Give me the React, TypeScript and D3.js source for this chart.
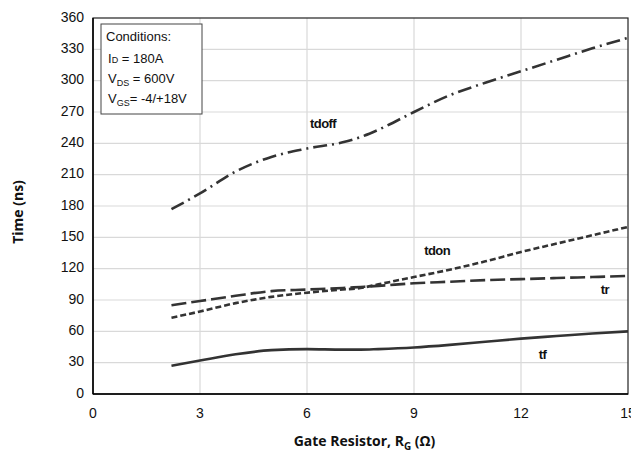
import React, { useRef, useEffect } from 'react';
import * as d3 from 'd3';

// gate resistor values (ohm) at which the curves were read
const rg = [2.2, 3, 4, 5, 6, 7, 7.5, 8, 9, 10, 11, 12, 13, 14, 15];
const tdoff = [177, 192, 213, 227, 235, 241, 246, 253, 270, 286, 298, 309, 320, 331, 341];
const tdon = [73, 79, 87, 93, 97, 100, 101.5, 105, 112, 119, 127, 136, 144, 152, 160];
const tr = [85, 89, 94, 98.5, 100, 101.5, 102.5, 103.5, 106, 107.5, 109, 110, 111, 112, 113];
const tf = [27, 32, 38, 42, 43, 42.5, 42.5, 43, 44.5, 47, 50, 53, 55.5, 58, 60];

const xTicks = [0, 3, 6, 9, 12, 15];
const yTicks = [0, 30, 60, 90, 120, 150, 180, 210, 240, 270, 300, 330, 360];

const seriesNames = ['tdoff', 'tdon', 'tr', 'tf'];
const seriesValues = [tdoff, tdon, tr, tf];
const seriesDash = ['14,5,2,5', '6,3', '15,5', 'none'];
// label anchor positions in data units [rg, ns]
const labelX = [6.45, 9.65, 14.35, 12.6];
const labelY = [258, 136, 99, 37];

const W = 631;
const H = 461;

const App: React.FC = () => {
  const svgRef = useRef<SVGSVGElement>(null);

  useEffect(() => {
    document.body.style.margin = '0';
    if (!svgRef.current) return;
    const svg = d3.select(svgRef.current);
    svg.selectAll('*').remove();

    const left = 93, right = 628, top = 18, bottom = 394;
    const x = d3.scaleLinear().domain([0, 15]).range([left, right]);
    const y = d3.scaleLinear().domain([0, 360]).range([bottom, top]);

    // grid
    svg.append('g').selectAll('line.gx').data(xTicks.slice(1, -1)).join('line')
      .attr('x1', d => x(d)).attr('x2', d => x(d))
      .attr('y1', top).attr('y2', bottom)
      .attr('stroke', '#d9d9d9').attr('stroke-width', 1.2);
    svg.append('g').selectAll('line.gy').data(yTicks.slice(1, -1)).join('line')
      .attr('x1', left).attr('x2', right)
      .attr('y1', d => y(d)).attr('y2', d => y(d))
      .attr('stroke', '#d9d9d9').attr('stroke-width', 1.2);

    // frame
    svg.append('rect')
      .attr('x', left).attr('y', top)
      .attr('width', right - left).attr('height', bottom - top)
      .attr('fill', 'none').attr('stroke', '#222').attr('stroke-width', 1.2);
    svg.append('line').attr('x1', left).attr('x2', left).attr('y1', top).attr('y2', bottom)
      .attr('stroke', '#000').attr('stroke-width', 1.5);
    svg.append('line').attr('x1', left).attr('x2', right).attr('y1', bottom).attr('y2', bottom)
      .attr('stroke', '#000').attr('stroke-width', 1.5);

    // tick labels
    svg.append('g').selectAll('text').data(yTicks).join('text')
      .attr('x', left - 9).attr('y', d => y(d))
      .attr('text-anchor', 'end').attr('dominant-baseline', 'middle')
      .attr('font-family', 'Liberation Sans, Arial, sans-serif')
      .attr('font-size', 14).attr('fill', '#111')
      .text(d => d);
    svg.append('g').selectAll('text').data(xTicks).join('text')
      .attr('x', d => x(d)).attr('y', bottom + 20)
      .attr('text-anchor', 'middle').attr('dominant-baseline', 'middle')
      .attr('font-family', 'Liberation Sans, Arial, sans-serif')
      .attr('font-size', 14).attr('fill', '#111')
      .text(d => d);

    // axis titles
    svg.append('text')
      .attr('transform', `translate(23, ${(top + bottom) / 2 + 6}) rotate(-90)`)
      .attr('text-anchor', 'middle')
      .attr('font-family', 'Open Sans, sans-serif').attr('font-weight', 'bold')
      .attr('font-size', 14).attr('fill', '#111')
      .text('Time (ns)');
    const xt = svg.append('text')
      .attr('x', (left + right) / 2 + 4).attr('y', 446)
      .attr('text-anchor', 'middle')
      .attr('font-family', 'Open Sans, sans-serif').attr('font-weight', 'bold')
      .attr('font-size', 14).attr('fill', '#111');
    xt.append('tspan').text('Gate Resistor, R');
    xt.append('tspan').attr('font-size', 10).attr('dy', 4).text('G');
    xt.append('tspan').attr('dy', -4).text(' (Ω)');

    // curves
    const line = d3.line<number>()
      .x((_, i) => x(rg[i]))
      .y(d => y(d))
      .curve(d3.curveMonotoneX);
    seriesValues.forEach((vals, k) => {
      svg.append('path')
        .attr('d', line(vals) as string)
        .attr('fill', 'none')
        .attr('stroke', '#333')
        .attr('stroke-width', 2.6)
        .attr('stroke-dasharray', seriesDash[k]);
    });

    // series labels
    svg.append('g').selectAll('text').data(seriesNames).join('text')
      .attr('x', (_, i) => x(labelX[i])).attr('y', (_, i) => y(labelY[i]))
      .attr('text-anchor', 'middle').attr('dominant-baseline', 'middle')
      .attr('font-family', 'Liberation Sans, Arial, sans-serif').attr('font-weight', 'bold')
      .attr('font-size', 13).attr('letter-spacing', -0.6).attr('fill', '#111')
      .text(d => d);

    // conditions box
    const bx = 101, by = 24;
    svg.append('rect')
      .attr('x', bx).attr('y', by).attr('width', 101).attr('height', 90)
      .attr('fill', '#fff').attr('stroke', '#444').attr('stroke-width', 1);
    const font = 'Liberation Sans, Arial, sans-serif';
    svg.append('text').attr('x', bx + 5).attr('y', by + 17)
      .attr('font-family', font).attr('font-size', 13).attr('fill', '#111')
      .text('Conditions:');
    const l1 = svg.append('text').attr('x', bx + 7).attr('y', by + 39)
      .attr('font-family', font).attr('font-size', 13).attr('fill', '#111');
    l1.append('tspan').text('I');
    l1.append('tspan').attr('font-size', 9).text('D');
    l1.append('tspan').text(' = 180A');
    const l2 = svg.append('text').attr('x', bx + 7).attr('y', by + 59)
      .attr('font-family', font).attr('font-size', 13).attr('fill', '#111');
    l2.append('tspan').text('V');
    l2.append('tspan').attr('font-size', 9).attr('dy', 3).text('DS');
    l2.append('tspan').attr('dy', -3).text(' = 600V');
    const l3 = svg.append('text').attr('x', bx + 7).attr('y', by + 79)
      .attr('font-family', font).attr('font-size', 13).attr('fill', '#111');
    l3.append('tspan').text('V');
    l3.append('tspan').attr('font-size', 9).attr('dy', 3).text('GS');
    l3.append('tspan').attr('dy', -3).text('= -4/+18V');
  }, []);

  return <svg ref={svgRef} width={W} height={H} style={{ display: 'block', background: '#fff' }} />;
};

export default App;
